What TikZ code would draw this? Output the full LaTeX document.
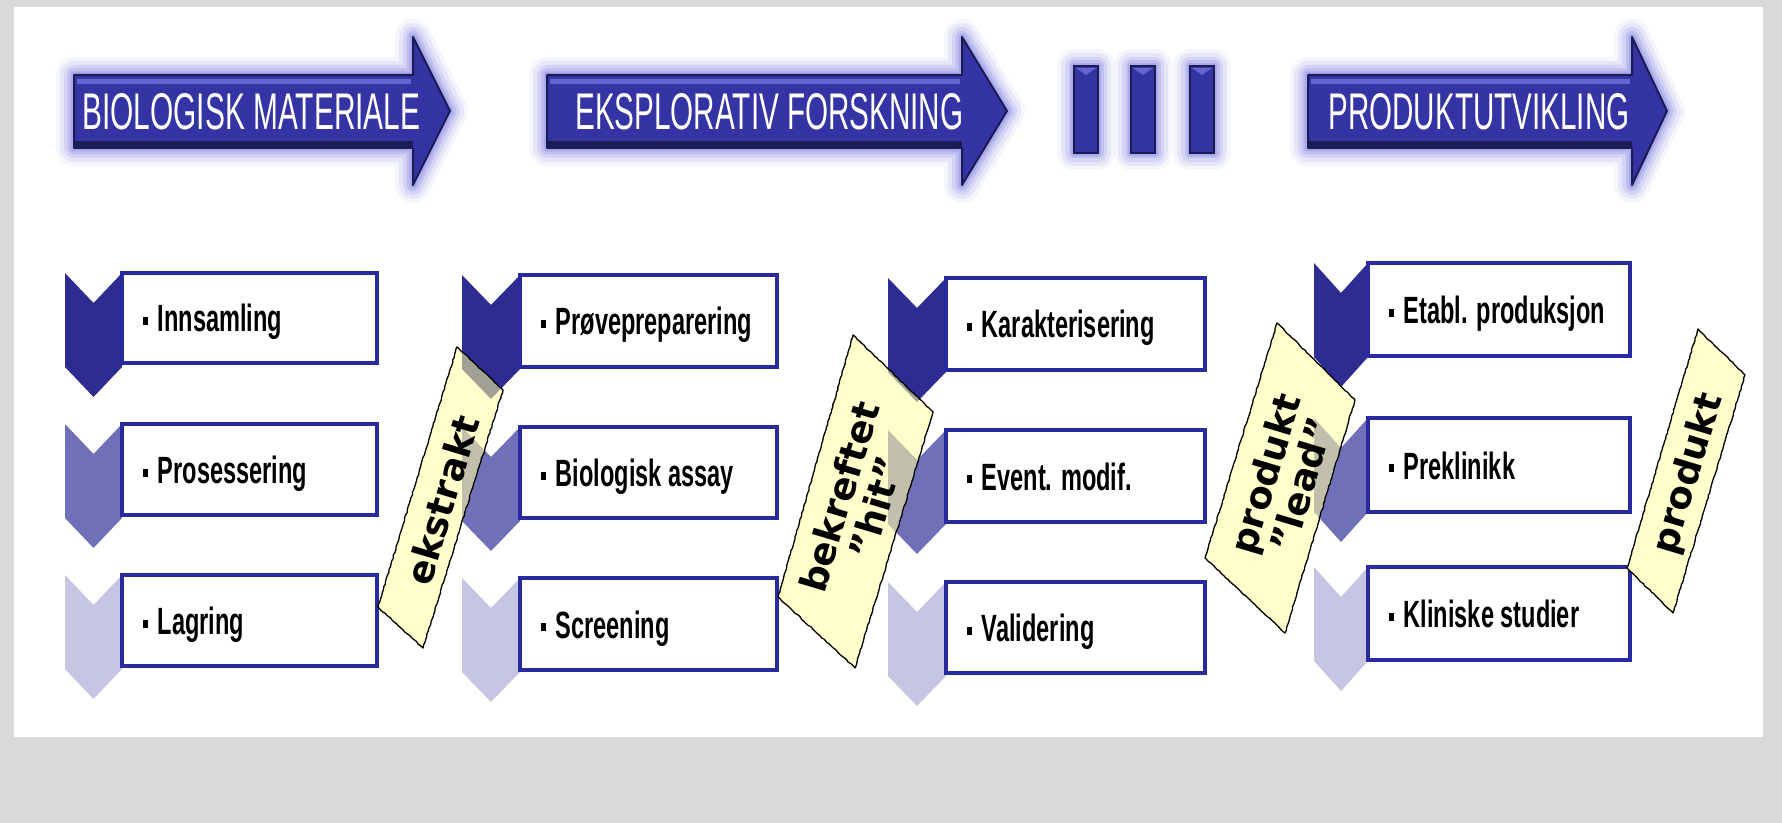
\documentclass[tikz,border=0pt]{standalone}
\usepackage{fontspec}
\usepackage{graphicx}
\setmainfont{Liberation Sans}
\newfontfamily\notefont{DejaVu Sans}
\usetikzlibrary{decorations.pathmorphing}
\newlength{\px}\setlength{\px}{0.5pt}
\definecolor{bgrey}{RGB}{217,217,217}
\definecolor{arrowblue}{RGB}{52,52,165}
\definecolor{arrowlight}{RGB}{100,100,210}
\definecolor{arrowdark}{RGB}{28,28,85}
\definecolor{glowblue}{RGB}{85,85,220}
\definecolor{chevdark}{RGB}{44,44,145}
\definecolor{chevmid}{RGB}{112,112,184}
\definecolor{chevlight}{RGB}{198,198,228}
\definecolor{boxblue}{RGB}{42,42,160}
\definecolor{noteyellow}{RGB}{255,255,204}
\definecolor{shadedark}{RGB}{160,160,148}
\definecolor{shademid}{RGB}{192,192,172}
\definecolor{shadelight}{RGB}{228,228,205}
\tikzset{
  stagebox/.style={rectangle, draw=boxblue, line width=4.5\px, fill=white, inner sep=0pt, outer sep=0pt},
  stagetext/.style={anchor=base west, inner sep=0pt, font=\bfseries\fontsize{19pt}{22pt}\selectfont},
  headtext/.style={anchor=base west, inner sep=0pt, text=white, font=\fontsize{24.5pt}{28pt}\selectfont},
  notetext/.style={inner sep=0pt, rotate=73.3, align=center, font=\notefont\bfseries\fontsize{18.5pt}{19pt}\selectfont},
  noteedge/.style={draw=black, line width=1.3\px, line join=round, decorate, decoration={random steps, segment length=3\px, amplitude=0.5\px}}
}
\newcommand\bigarrow[3]{%
  \foreach \w/\o in {36/0.06,28/0.09,20/0.12,13/0.16,7/0.2}
    \draw[glowblue, line width=\w\px, opacity=\o, line join=round]
      (#1,75) -- (#2,75) -- (#2,37) -- (#3,111) -- (#2,185) -- (#2,148) -- (#1,148) -- cycle;
  \fill[arrowblue] (#1,75) -- (#2,75) -- (#2,37) -- (#3,111) -- (#2,185) -- (#2,148) -- (#1,148) -- cycle;
  \fill[arrowdark] (#1,141) rectangle (#2,148);
  \fill[arrowlight] (#1+3,79) rectangle (#2-2,84);
  \draw[arrowdark, line width=2\px, line join=round]
      (#1,75) -- (#2,75) -- (#2,37) -- (#3,111) -- (#2,185) -- (#2,148) -- (#1,148) -- cycle;
}
\newcommand\glowbar[2]{%
  \foreach \w/\o in {34/0.06,26/0.09,18/0.12,11/0.16,6/0.2}
    \draw[glowblue, line width=\w\px, opacity=\o, line join=round] (#1,66) rectangle (#2,153);
  \fill[arrowblue] (#1,66) rectangle (#2,153);
  \fill[arrowlight] (#1+2,68) -- (#2-2,68) -- ({(#1+#2)/2},75) -- cycle;
  \draw[arrowdark, line width=2\px] (#1,66) rectangle (#2,153);
}
\newcommand\chev[4]{%
  \fill[#1] (#2,#4) -- ({(#2+#3)/2},{#4+30}) -- (#3,#4) -- (#3,{#4+94})
     -- ({(#2+#3)/2},{#4+124}) -- (#2,{#4+94}) -- cycle;}
\newcommand\chevcol[8]{\chev{#6}{#1}{#2}{#3}\chev{#7}{#1}{#2}{#4}\chev{#8}{#1}{#2}{#5}}
\newcommand\stage[6]{%
  \node[stagebox, minimum width={(#4-#2)*0.5pt}, minimum height={(#5-#3)*0.5pt}] (#1) at ({(#2+#4)/2},{(#3+#5)/2}) {};
  \node[stagetext] (#1t) at ([xshift=21\px,yshift=-14\px]#1.west)
    {\scalebox{0.62}[1]{\rule[0.18em]{0.21em}{0.21em}\hspace{0.4em}#6}};}
\newcommand\stickynote[9]{%
  \fill[noteyellow] (#1,#2) -- (#3,#4) -- (#5,#6) -- (#7,#8) -- cycle;
  \begin{scope}
    \clip (#1,#2) -- (#3,#4) -- (#5,#6) -- (#7,#8) -- cycle;
    #9
  \end{scope}
  \draw[noteedge] (#1,#2) -- (#3,#4) -- (#5,#6) -- (#7,#8) -- cycle;
}
\begin{document}
\begin{tikzpicture}[x=0.5pt, y=-0.5pt]
\pgfmathsetseed{7}
\useasboundingbox (0,0) rectangle (1782,823);
\fill[bgrey] (0,0) rectangle (1782,823);
\fill[white] (14,7) rectangle (1763,737);

% top arrows
\bigarrow{74}{413}{450}
\bigarrow{547}{962}{1007}
\bigarrow{1308}{1632}{1667}
\glowbar{1074}{1098}
\glowbar{1131}{1155}
\glowbar{1190}{1214}
\node[headtext] (h1) at (82,130) {\resizebox{338\px}{36\px}{BIOLOGISK MATERIALE}};
\node[headtext] (h2) at (575,130) {\resizebox{388\px}{36\px}{EKSPLORATIV FORSKNING}};
\node[headtext] (h3) at (1328,130) {\resizebox{301\px}{36\px}{PRODUKTUTVIKLING}};

% chevrons
\chevcol{65}{122}{273}{424}{575}{chevdark}{chevmid}{chevlight}
\chevcol{462}{520}{275}{427}{578}{chevdark}{chevmid}{chevlight}
\chevcol{888}{946}{278}{430}{582}{chevdark}{chevmid}{chevlight}
\chevcol{1314}{1368}{263}{418}{567}{chevdark}{chevmid}{chevlight}

% stage boxes
\stage{b11}{122}{273}{377}{363}{Innsamling}
\stage{b12}{122}{424}{377}{515}{Prosessering}
\stage{b13}{122}{575}{377}{666}{Lagring}
\stage{b21}{520}{275}{777}{367}{Prøvepreparering}
\stage{b22}{520}{427}{777}{518}{Biologisk assay}
\stage{b23}{520}{578}{777}{670}{Screening}
\stage{b31}{946}{278}{1205}{370}{Karakterisering}
\stage{b32}{946}{430}{1205}{522}{Event. modif.}
\stage{b33}{946}{582}{1205}{673}{Validering}
\stage{b41}{1368}{263}{1630}{356}{Etabl. produksjon}
\stage{b42}{1368}{418}{1630}{512}{Preklinikk}
\stage{b43}{1368}{567}{1630}{660}{Kliniske studier}

% sticky notes
\stickynote{457}{347}{503}{390}{423}{648}{378}{607}{\chevcol{462}{520}{275}{427}{578}{shadedark}{shademid}{shadelight}}
\stickynote{853}{335}{933}{412}{855}{668}{778}{597}{\chevcol{888}{946}{278}{430}{582}{shadedark}{shademid}{shadelight}}
\stickynote{1277}{323}{1355}{400}{1285}{633}{1205}{558}{\chevcol{1314}{1368}{263}{418}{567}{shadedark}{shademid}{shadelight}}
\stickynote{1698}{329}{1745}{375}{1673}{613}{1627}{568}{}
\node[notetext] (n1) at (442,500) {ekstrakt};
\node[notetext] (n2) at (857,502) {bekreftet\\”hit”};
\node[notetext] (n3) at (1283,479) {produkt\\”lead”};
\node[notetext] (n4) at (1689,474) {produkt};
\end{tikzpicture}
\end{document}
